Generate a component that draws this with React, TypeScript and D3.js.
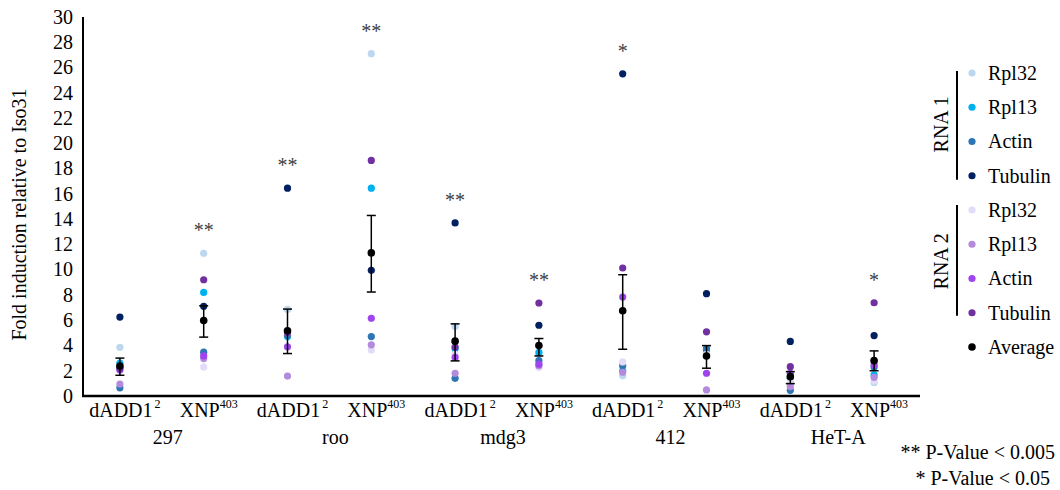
import React from 'react';
import * as d3 from 'd3';

// categories: element x genotype
const elements = ['297', 'roo', 'mdg3', '412', 'HeT-A'];
const genotypes = [
  { base: 'dADD1', sup: '2' },
  { base: 'XNP', sup: '403' },
];
const categories = elements.flatMap(e => genotypes.map(g => `${e}|${g.base}`));

// fold induction, one value per category
const rna1Rpl32 = [3.85, 11.3, 6.85, 27.1, 5.5, 3.3, 1.6, 3.4, 1.0, 1.05];
const rna1Rpl13 = [2.6, 8.2, 4.7, 16.45, 3.75, 3.45, 2.0, 3.6, 1.4, 1.67];
const rna1Actin = [0.65, 3.47, 4.8, 4.7, 1.4, 2.8, 2.4, 3.75, 0.45, 2.3];
const rna1Tubulin = [6.25, 7.1, 16.45, 9.95, 13.7, 5.6, 25.5, 8.1, 4.32, 4.78];
const rna2Rpl32 = [2.3, 2.3, 5.0, 3.65, 3.3, 2.25, 2.7, 3.3, 1.2, 1.2];
const rna2Rpl13 = [0.95, 2.96, 1.58, 4.05, 1.8, 2.4, 1.88, 0.48, 0.75, 1.48];
const rna2Actin = [2.05, 3.17, 3.9, 6.15, 3.05, 2.52, 7.83, 1.8, 1.8, 2.45];
const rna2Tubulin = [2.2, 9.2, 5.0, 18.65, 3.87, 7.36, 10.13, 5.08, 2.32, 7.38];
const average = [2.38, 5.98, 5.16, 11.33, 4.34, 3.99, 6.75, 3.17, 1.53, 2.8];
const errLow = [1.64, 4.66, 3.36, 8.23, 2.78, 3.17, 3.7, 2.2, 0.98, 2.0];
const errHigh = [3.0, 7.14, 6.88, 14.29, 5.71, 4.55, 9.6, 3.99, 1.93, 3.57];
const significance = ['', '**', '**', '**', '**', '**', '*', '', '', '*'];

const yTicks = d3.range(0, 31, 2);

const series = [
  { name: 'Rpl32', color: '#bdd7ee', values: rna1Rpl32 },
  { name: 'Rpl13', color: '#00b0f0', values: rna1Rpl13 },
  { name: 'Actin', color: '#2e75b6', values: rna1Actin },
  { name: 'Tubulin', color: '#002060', values: rna1Tubulin },
  { name: 'Rpl32', color: '#e2dcf8', values: rna2Rpl32 },
  { name: 'Rpl13', color: '#b48bdc', values: rna2Rpl13 },
  { name: 'Actin', color: '#a044ee', values: rna2Actin },
  { name: 'Tubulin', color: '#7030a0', values: rna2Tubulin },
];

const W = 1060;
const H = 490;
const font = '"Liberation Serif", "Times New Roman", serif';

export default function App() {
  const x = d3.scaleBand().domain(categories).range([82, 920]);
  const y = d3.scaleLinear().domain([0, 30]).range([396, 17]);
  const cx = (c: string) => (x(c) as number) + x.bandwidth() / 2;
  const dotX = (c: string) => cx(c) - 4;

  const legendY = d3.scaleLinear().domain([0, 8]).range([73, 347]);

  return (
    <svg width={W} height={H}
      style={{ position: 'absolute', left: 0, top: 0, background: '#fff', fontFamily: font }}>
      {/* y axis labels */}
      {yTicks.map(t => (
        <text key={t} x={73} y={y(t)} dy="0.34em" textAnchor="end" fontSize={20} fill="#000">{t}</text>
      ))}
      <text transform={`translate(26,${(y(0) + y(30)) / 2 + 8}) rotate(-90)`} textAnchor="middle"
        fontSize={20} fill="#000">Fold induction relative to Iso31</text>

      {/* axes */}
      <line x1={83} x2={83} y1={y(30)} y2={y(0)} stroke="#000" strokeWidth={2} />
      <line x1={82} x2={920} y1={y(0)} y2={y(0)} stroke="#000" strokeWidth={2.5} />

      {/* category labels */}
      {categories.map((c, i) => {
        const g = genotypes[i % 2];
        return (
          <text key={c} x={cx(c) + 1} y={417} textAnchor="middle" fontSize={20} fill="#000">
            {g.base}
            <tspan fontSize={12} dy={-9} dx={i % 2 ? 0 : 2}>{g.sup}</tspan>
          </text>
        );
      })}
      {elements.map((e, i) => {
        const a = cx(categories[i * 2]);
        const b = cx(categories[i * 2 + 1]);
        return (
          <text key={e} x={(a + b) / 2 + 2} y={444} textAnchor="middle" fontSize={20} fill="#000">{e}</text>
        );
      })}

      {/* points */}
      {series.map((s, si) => (
        <g key={si}>
          {s.values.map((v, i) => (
            <circle key={i} cx={dotX(categories[i])} cy={y(v)} r={3.6} fill={s.color} />
          ))}
        </g>
      ))}

      {/* error bars + average */}
      {categories.map((c, i) => {
        const px = dotX(c);
        return (
          <g key={c} stroke="#000" strokeWidth={1.5}>
            <line x1={px} x2={px} y1={y(errLow[i])} y2={y(errHigh[i])} />
            <line x1={px - 4.5} x2={px + 4.5} y1={y(errLow[i])} y2={y(errLow[i])} />
            <line x1={px - 4.5} x2={px + 4.5} y1={y(errHigh[i])} y2={y(errHigh[i])} />
          </g>
        );
      })}
      {average.map((v, i) => (
        <circle key={i} cx={dotX(categories[i])} cy={y(v)} r={3.8} fill="#000" />
      ))}

      {/* significance stars */}
      {significance.map((s, i) => {
        if (!s) return null;
        const top = d3.max(series, d => d.values[i]) as number;
        return (
          <text key={i} x={dotX(categories[i])} y={y(top) - 16} textAnchor="middle" fontSize={20}
            fill="#404040">{s}</text>
        );
      })}

      {/* legend */}
      {series.map((s, i) => (
        <g key={i}>
          <circle cx={972} cy={legendY(i)} r={3.6} fill={s.color} />
          <text x={988} y={legendY(i)} dy="0.34em" fontSize={20} fill="#000">{s.name}</text>
        </g>
      ))}
      <circle cx={972} cy={legendY(8)} r={3.8} fill="#000" />
      <text x={988} y={legendY(8)} dy="0.34em" fontSize={20} fill="#000">Average</text>

      <line x1={957} x2={957} y1={legendY(0) - 2} y2={legendY(3) + 4} stroke="#000" strokeWidth={2} />
      <line x1={957} x2={957} y1={legendY(4) - 5} y2={legendY(7) + 3} stroke="#000" strokeWidth={2} />
      <text transform={`translate(948,${(legendY(0) + legendY(3)) / 2}) rotate(-90)`} textAnchor="middle"
        fontSize={20} fill="#000">RNA 1</text>
      <text transform={`translate(948,${(legendY(4) + legendY(7)) / 2}) rotate(-90)`} textAnchor="middle"
        fontSize={20} fill="#000">RNA 2</text>

      {/* p-value notes */}
      <text x={1055} y={459} textAnchor="end" fontSize={20} fill="#000">** P-Value &lt; 0.005</text>
      <text x={1050} y={485} textAnchor="end" fontSize={20} fill="#000">* P-Value &lt; 0.05</text>
    </svg>
  );
}
